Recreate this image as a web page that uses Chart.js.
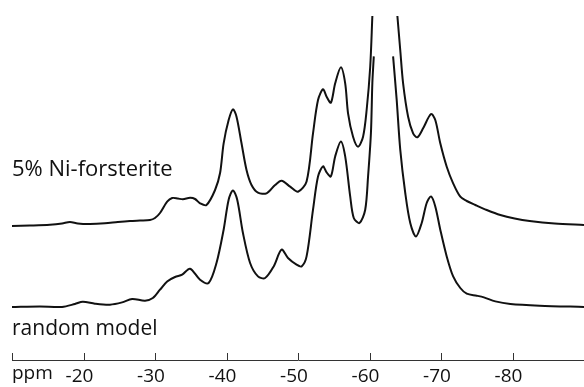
<!DOCTYPE html>
<html>
<head>
<meta charset="utf-8">
<script src="https://cdn.jsdelivr.net/npm/chart.js@4.4.1/dist/chart.umd.min.js"></script>
<style>
  html, body { margin: 0; padding: 0; background: #fff; }
  #wrap { width: 584px; height: 387px; }
</style>
</head>
<body>
<div id="wrap"><canvas id="nmr" width="584" height="387"></canvas></div>
<script>
// 29Si shift (ppm) and intensity; null = break at the clipped main peak
var ppmNi = [-10, -12.5, -15.3, -17, -18.1, -19.2, -20.9, -23, -24.8, -26.5, -27.9, -29.3, -30, -30.7, -31.7, -32.4, -33.2, -33.9,
  -34.9, -35.6, -36.3, -37.2, -38.4, -39.1, -39.6, -40.3, -40.9, -41.4, -42.1, -42.8, -43.5, -44.4, -45.6, -46.8, -47.7, -48.9,
  -50, -51.2, -52.1, -52.8, -53.5, -54, -54.6, -55.2, -56, -56.6, -57, -57.7, -58.4, -59.1, -59.6, -60.1, -60.4,
  -62,
  -63.9, -64.3, -64.7, -65.4, -66.1, -66.7, -67.5, -68.6, -69.2, -69.9, -70.8, -71.7, -72.7, -73.6, -74.8, -76.4, -78.3,
  -80.3, -82.4, -85.9, -90];
var ampNi = [0, 0.5, 1.3, 2.5, 4, 2.5, 2, 2.7, 4, 5, 5.5, 6, 8, 13, 24.3, 28, 27.5, 26.7,
  28.2, 27, 22.7, 21, 36, 53, 82.7, 106, 116.7, 109.3, 82.7, 56, 41, 33.3, 32.7, 41, 45.3, 39.3,
  34.3, 44.5, 92.7, 126, 136.7, 129.3, 123.3, 142.7, 158.7, 142.7, 112.7, 89.3, 79.3, 89.3, 116, 159.3, 210,
  null,
  210, 176, 142.7, 109.3, 92.7, 88.7, 97.7, 112, 106, 82.7, 59.3, 42.7, 29.3, 25, 21, 16, 11,
  7.5, 5, 2.5, 1];

var ppmModel = [-10, -13.9, -17, -18.8, -19.9, -21.6, -23.7, -25.4, -26.8, -28.6, -29.7, -30.7, -31.7, -32.8, -33.8, -34.9,
  -36.3, -37.5, -38.6, -39.6, -40.3, -40.9, -41.5, -42.3, -43.3, -44.4, -45.4, -46.6, -47.7, -48.6, -49.8, -50.5, -51.2,
  -52.1, -52.8, -53.5, -54, -54.6, -55.2, -56, -56.6, -57.3, -57.8, -58.6, -59.4, -59.8, -60.2, -60.4, -60.6,
  -62,
  -63.3, -63.8, -64.3, -65, -65.7, -66.5, -67.3, -68, -68.6, -69.2, -69.9, -70.8, -71.7, -72.7, -73.6, -75, -76, -77.6,
  -79.7, -83.8, -90];
var ampModel = [0, 0.6, 0, 3, 5.3, 3.3, 2.3, 4.6, 8, 6.3, 9, 17.3, 25.6, 30, 32.3, 38.3,
  27.3, 24, 44, 77.3, 107.3, 116.6, 107.3, 74, 44, 30.6, 29, 40.6, 57.3, 49, 42.3, 40.6, 50.6,
  97.3, 130.6, 140.6, 134.6, 130.6, 150.6, 165.6, 150.6, 110.6, 89, 84, 97.3, 130.6, 174, 224, 250.6,
  null,
  250.6, 207.3, 157.3, 114, 84, 70.6, 84, 104, 110.6, 100.6, 77.3, 50.6, 30.6, 19, 13.3, 11.3, 9.6, 5.6,
  3, 1.3, 0];

var tickPpm = [-20, -30, -40, -50, -60, -70, -80];
var traceNames = ["5% Ni-forsterite", "random model"];

// vertical stacking of the two spectra
var offsetNi = 134;
var offsetModel = 53;

function toPoints(xs, ys, off) {
  return xs.map(function (x, i) {
    return { x: x, y: ys[i] === null ? null : ys[i] + off };
  });
}

var axisTicks = {
  id: "axisTicks",
  afterDraw: function (chart) {
    var ctx = chart.ctx;
    var sx = chart.scales.x;
    var bottom = chart.chartArea.bottom;
    ctx.save();
    ctx.strokeStyle = "#333";
    ctx.lineWidth = 1;
    sx.ticks.forEach(function (t) {
      var px = Math.round(sx.getPixelForValue(t.value)) + 0.5;
      ctx.beginPath();
      ctx.moveTo(px, bottom);
      ctx.lineTo(px, bottom - 7);
      ctx.stroke();
    });
    ctx.fillStyle = "#111";
    ctx.textBaseline = "alphabetic";
    ctx.font = "22px 'Open Sans'";
    ctx.fillText(traceNames[0], 12, 176);
    ctx.font = "21px 'Open Sans'";
    ctx.fillText(traceNames[1], 12, 335);
    ctx.font = "19px 'Open Sans'";
    ctx.fillText("ppm", sx.getPixelForValue(-10), 379);
    ctx.restore();
  },
};

new Chart(document.getElementById("nmr"), {
  type: "line",
  data: {
    datasets: [
      {
        label: traceNames[0],
        data: toPoints(ppmNi, ampNi, offsetNi),
        borderColor: "#111",
        borderWidth: 2,
        pointRadius: 0,
        tension: 0.3,
        spanGaps: false,
      },
      {
        label: traceNames[1],
        data: toPoints(ppmModel, ampModel, offsetModel),
        borderColor: "#111",
        borderWidth: 2,
        pointRadius: 0,
        tension: 0.3,
        spanGaps: false,
      },
    ],
  },
  options: {
    responsive: false,
    animation: false,
    devicePixelRatio: 1,
    layout: { padding: { left: 12, right: 0, top: 0, bottom: 0 } },
    plugins: { legend: { display: false }, tooltip: { enabled: false } },
    scales: {
      x: {
        type: "linear",
        reverse: true,
        min: -90,
        max: -10,
        afterFit: function (s) {
          s.height = 27;
          s.paddingLeft = 0;
          s.paddingRight = 0;
        },
        border: { display: true, color: "#333", width: 1 },
        grid: { display: false, drawTicks: false },
        ticks: {
          stepSize: 10,
          autoSkip: false,
          maxRotation: 0,
          padding: 5,
          labelOffset: -4,
          color: "#111",
          font: { family: "'Open Sans'", size: 19 },
          callback: function (v) {
            return tickPpm.indexOf(v) >= 0 ? String(v) : "";
          },
        },
      },
      y: { display: false, min: 0, max: 360 },
    },
  },
  plugins: [axisTicks],
});
</script>
</body>
</html>
